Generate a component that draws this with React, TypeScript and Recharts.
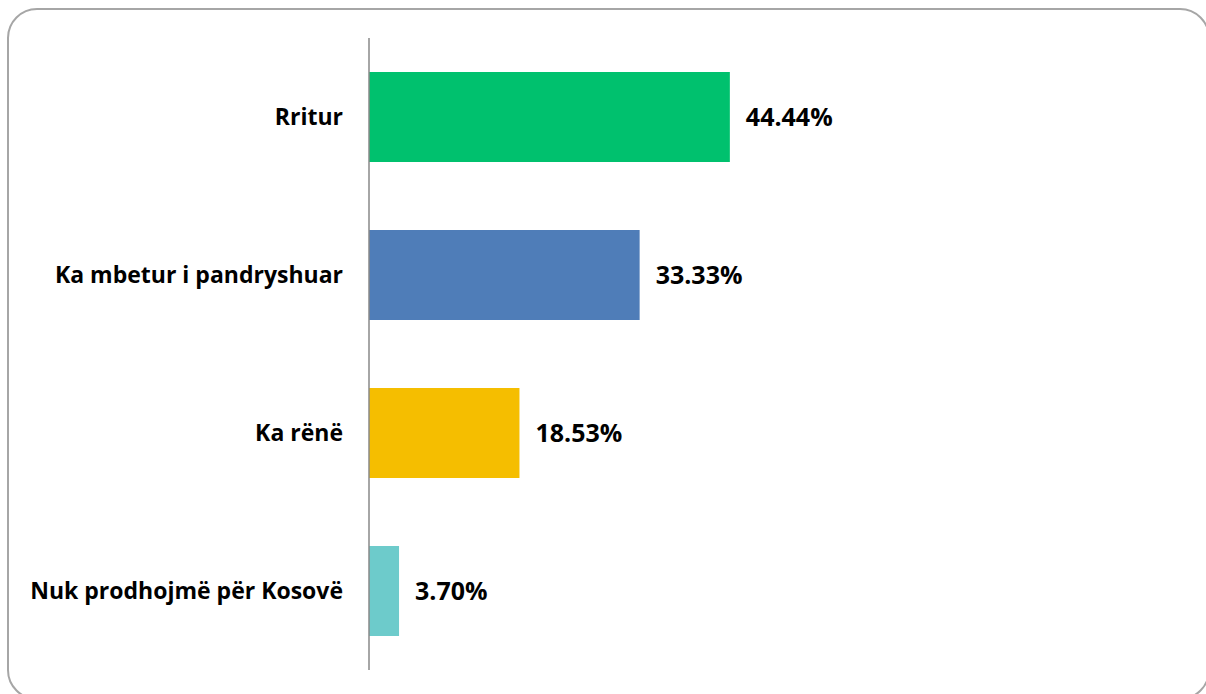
import React from 'react';
import { BarChart, Bar, XAxis, YAxis, Cell, LabelList } from 'recharts';

const categories = ['Rritur', 'Ka mbetur i pandryshuar', 'Ka rënë', 'Nuk prodhojmë për Kosovë'];
const values = [44.44, 33.33, 18.53, 3.7];
const barColors = ['#00C16E', '#4F7DB8', '#F5BE00', '#6DCBCB'];

const data = categories.map((name, i) => ({ name, value: values[i] }));

const font = '"Open Sans", Lato, sans-serif';

const App: React.FC = () => {
    return (
        <div style={{ position: 'absolute', left: 0, top: 0, width: 1206, height: 694, overflow: 'hidden', background: '#fff' }}>
            {/* rounded frame, partly cut by the page edges */}
            <div
                style={{
                    position: 'absolute',
                    left: 7,
                    top: 8,
                    width: 1203,
                    height: 692,
                    border: '2px solid #a6a6a6',
                    borderRadius: 30,
                    boxSizing: 'border-box',
                }}
            />
            <div style={{ position: 'absolute', left: 0, top: 0 }}>
                <BarChart
                    width={1206}
                    height={694}
                    data={data}
                    layout="vertical"
                    margin={{ top: 38, right: 25, bottom: 24, left: 0 }}
                >
                    <XAxis type="number" domain={[0, 100]} hide />
                    <YAxis
                        type="category"
                        dataKey="name"
                        width={369}
                        tickLine={false}
                        tickSize={0}
                        tickMargin={26}
                        axisLine={{ stroke: '#888888', strokeWidth: 1.5 }}
                        tick={{ fill: '#000', fontSize: 23, fontWeight: 700, fontFamily: font }}
                    />
                    <Bar dataKey="value" barSize={90} isAnimationActive={false}>
                        {data.map((d, i) => (
                            <Cell key={d.name} fill={barColors[i]} />
                        ))}
                        <LabelList
                            dataKey="value"
                            position="right"
                            offset={16}
                            formatter={(v: any) => `${Number(v).toFixed(2)}%`}
                            style={{ fill: '#000', fontSize: 25, fontWeight: 700, fontFamily: font }}
                        />
                    </Bar>
                </BarChart>
            </div>
        </div>
    );
};

export default App;
